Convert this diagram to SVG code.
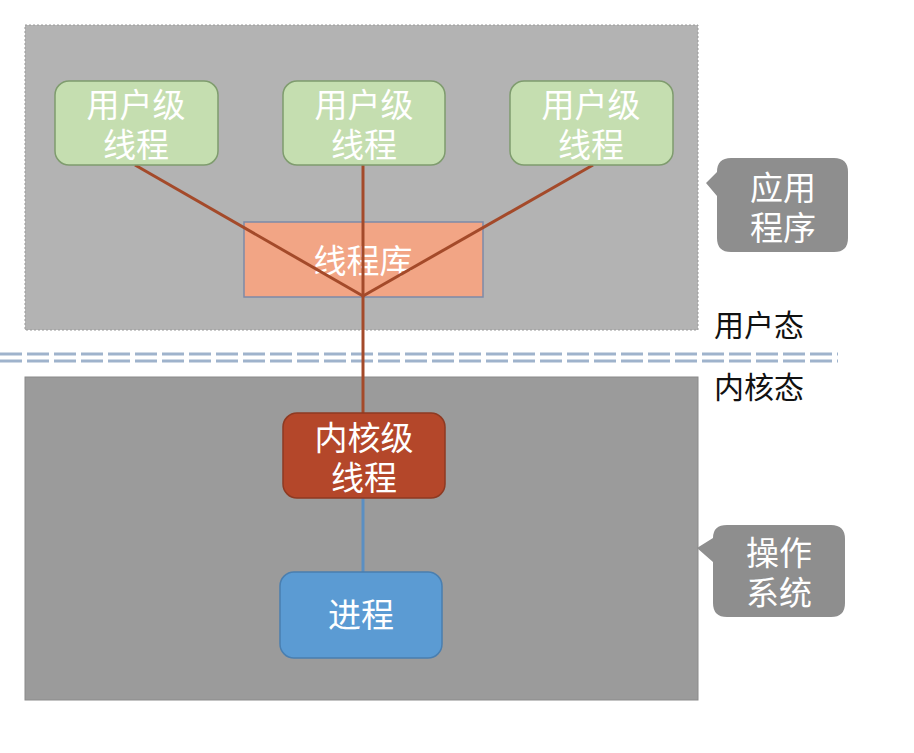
<svg xmlns="http://www.w3.org/2000/svg" width="914" height="753" viewBox="0 0 914 753">
<style>
.t{font-family:"Liberation Sans","Noto Sans CJK SC",sans-serif;font-size:33px;fill:#ffffff;text-anchor:middle}
.lbl{font-family:"Liberation Sans","Noto Sans CJK SC",sans-serif;font-size:30px;fill:#111111}
.ut{fill:#c5deb0;stroke:#7f9c6e;stroke-width:1.5}
.call{fill:#8e8e8e}
.brown{stroke:#a44a2a;stroke-width:3;fill:none}
</style>
<rect width="914" height="753" fill="#ffffff"/>
<g id="app-area">
<rect x="25" y="25" width="673" height="305" fill="#b3b3b3" stroke="#999" stroke-width="1" stroke-dasharray="2,2"/>
</g>
<g id="os-area">
<rect x="25" y="377" width="673" height="323" fill="#9b9b9b" stroke="#8a8a8a" stroke-width="1"/>
</g>
<g id="divider">
<line x1="0" y1="354" x2="838" y2="354" stroke="#9fb3cc" stroke-width="3" stroke-dasharray="22,5"/>
<line x1="0" y1="361" x2="838" y2="361" stroke="#9fb3cc" stroke-width="3" stroke-dasharray="22,5"/>
</g>
<g id="lib">
<rect x="244" y="222" width="239" height="75" fill="#f2a585" stroke="#7d8aa8" stroke-width="1.5"/>
<text class="t" x="363" y="273">线程库</text>
</g>
<g id="connectors">
<line class="brown" x1="135" y1="165" x2="363" y2="296"/>
<line class="brown" x1="593" y1="165" x2="363" y2="296"/>
<line class="brown" x1="363" y1="165" x2="363" y2="414"/>
<line x1="363" y1="498" x2="363" y2="573" stroke="#5b8fc2" stroke-width="3"/>
</g>
<g id="ut1">
<rect class="ut" x="55" y="81" width="163" height="84" rx="14"/>
<text class="t" x="136" y="117">用户级</text>
<text class="t" x="136" y="157">线程</text>
</g>
<g id="ut2">
<rect class="ut" x="283" y="81" width="162" height="84" rx="14"/>
<text class="t" x="364" y="117">用户级</text>
<text class="t" x="364" y="157">线程</text>
</g>
<g id="ut3">
<rect class="ut" x="510" y="81" width="163" height="84" rx="14"/>
<text class="t" x="591" y="117">用户级</text>
<text class="t" x="591" y="157">线程</text>
</g>
<g id="kt">
<rect x="283" y="413" width="162" height="85" rx="14" fill="#b4472a" stroke="#8e3a22" stroke-width="1.5"/>
<text class="t" x="364" y="450">内核级</text>
<text class="t" x="364" y="490">线程</text>
</g>
<g id="proc">
<rect x="280" y="572" width="162" height="86" rx="14" fill="#5b9bd3" stroke="#4a7fb0" stroke-width="1.5"/>
<text class="t" x="361" y="627">进程</text>
</g>
<g id="callout-app">
<path class="call" d="M731,158 H834 Q848,158 848,172 V238 Q848,252 834,252 H731 Q717,252 717,238 V196 L706,183 L717,172 Q717,158 731,158 Z"/>
<text class="t" x="783" y="200">应用</text>
<text class="t" x="783" y="240">程序</text>
</g>
<g id="callout-os">
<path class="call" d="M727,525 H831 Q845,525 845,539 V603 Q845,617 831,617 H727 Q713,617 713,603 V562 L697,548 L713,538 Q713,525 727,525 Z"/>
<text class="t" x="779" y="565">操作</text>
<text class="t" x="779" y="605">系统</text>
</g>
<g id="labels">
<text class="lbl" x="714" y="336">用户态</text>
<text class="lbl" x="714" y="398">内核态</text>
</g>
</svg>
